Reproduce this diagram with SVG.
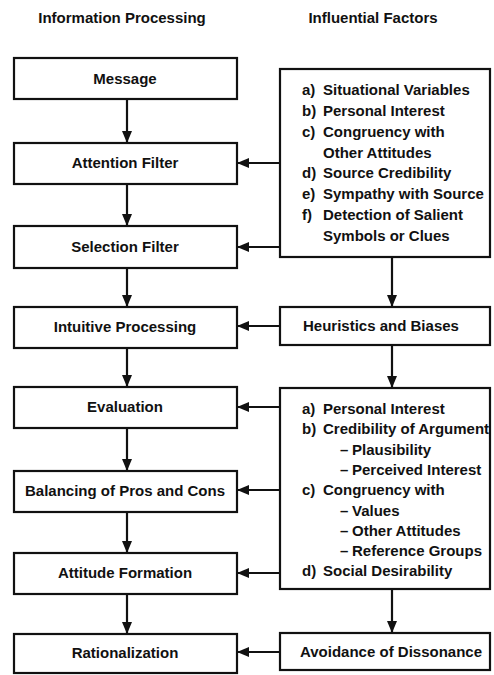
<svg xmlns="http://www.w3.org/2000/svg" width="494" height="675" viewBox="0 0 494 675">
<style>
text{font-family:"Liberation Sans",Arial,sans-serif;font-weight:bold;font-size:15px;fill:#111}
.box{fill:#fff;stroke:#111;stroke-width:2.2}
.c{text-anchor:middle}
.ln{stroke:#111;stroke-width:2.2;fill:none}
</style>
<defs>
<marker id="ah" viewBox="0 0 12 10" refX="11" refY="5" markerWidth="12" markerHeight="10" markerUnits="userSpaceOnUse" orient="auto">
<path d="M0,0 L12,5 L0,10 Z" fill="#111"/>
</marker>
</defs>
<rect width="494" height="675" fill="#fff"/>
<text class="c" x="122" y="23">Information Processing</text>
<text class="c" x="373" y="23">Influential Factors</text>

<g id="connectors">
<line class="ln" x1="127" y1="99" x2="127" y2="142" marker-end="url(#ah)"/>
<line class="ln" x1="127" y1="184" x2="127" y2="225" marker-end="url(#ah)"/>
<line class="ln" x1="127" y1="268" x2="127" y2="306" marker-end="url(#ah)"/>
<line class="ln" x1="127" y1="348" x2="127" y2="386" marker-end="url(#ah)"/>
<line class="ln" x1="127" y1="428" x2="127" y2="470" marker-end="url(#ah)"/>
<line class="ln" x1="127" y1="512" x2="127" y2="552" marker-end="url(#ah)"/>
<line class="ln" x1="127" y1="594" x2="127" y2="633" marker-end="url(#ah)"/>
<line class="ln" x1="392" y1="257" x2="392" y2="306" marker-end="url(#ah)"/>
<line class="ln" x1="392" y1="345" x2="392" y2="387" marker-end="url(#ah)"/>
<line class="ln" x1="392" y1="589" x2="392" y2="632" marker-end="url(#ah)"/>
<line class="ln" x1="280" y1="163" x2="238" y2="163" marker-end="url(#ah)"/>
<line class="ln" x1="280" y1="247" x2="238" y2="247" marker-end="url(#ah)"/>
<line class="ln" x1="280" y1="326" x2="238" y2="326" marker-end="url(#ah)"/>
<line class="ln" x1="280" y1="407" x2="238" y2="407" marker-end="url(#ah)"/>
<line class="ln" x1="280" y1="490" x2="238" y2="490" marker-end="url(#ah)"/>
<line class="ln" x1="280" y1="573" x2="238" y2="573" marker-end="url(#ah)"/>
<line class="ln" x1="280" y1="652" x2="238" y2="652" marker-end="url(#ah)"/>
</g>

<g id="message"><rect class="box" x="14" y="58" width="223" height="41"/><text class="c" x="125" y="84">Message</text></g>
<g id="attention"><rect class="box" x="14" y="143" width="223" height="41"/><text class="c" x="125" y="168">Attention Filter</text></g>
<g id="selection"><rect class="box" x="14" y="226" width="223" height="42"/><text class="c" x="125" y="252">Selection Filter</text></g>
<g id="intuitive"><rect class="box" x="14" y="307" width="223" height="41"/><text class="c" x="125" y="332">Intuitive Processing</text></g>
<g id="evaluation"><rect class="box" x="14" y="387" width="223" height="41"/><text class="c" x="125" y="412">Evaluation</text></g>
<g id="balancing"><rect class="box" x="14" y="471" width="223" height="41"/><text class="c" x="125" y="496">Balancing of Pros and Cons</text></g>
<g id="attitude"><rect class="box" x="14" y="553" width="223" height="41"/><text class="c" x="125" y="578">Attitude Formation</text></g>
<g id="rationalization"><rect class="box" x="14" y="634" width="223" height="39"/><text class="c" x="125" y="658">Rationalization</text></g>

<g id="factors1"><rect class="box" x="280" y="69" width="210" height="188"/>
<text x="302" y="95">a)</text><text x="323" y="95">Situational Variables</text>
<text x="302" y="116">b)</text><text x="323" y="116">Personal Interest</text>
<text x="302" y="137">c)</text><text x="323" y="137">Congruency with</text>
<text x="323" y="158">Other Attitudes</text>
<text x="302" y="178">d)</text><text x="323" y="178">Source Credibility</text>
<text x="302" y="199">e)</text><text x="323" y="199">Sympathy with Source</text>
<text x="302" y="220">f)</text><text x="323" y="220">Detection of Salient</text>
<text x="323" y="241">Symbols or Clues</text>
</g>
<g id="heuristics"><rect class="box" x="280" y="307" width="210" height="38"/><text x="303" y="331">Heuristics and Biases</text></g>
<g id="factors2"><rect class="box" x="280" y="388" width="210" height="201"/>
<text x="302" y="414">a)</text><text x="323" y="414">Personal Interest</text>
<text x="302" y="434">b)</text><text x="323" y="434">Credibility of Argument</text>
<text x="340" y="455">–</text><text x="352" y="455">Plausibility</text>
<text x="340" y="475">–</text><text x="352" y="475">Perceived Interest</text>
<text x="302" y="495">c)</text><text x="323" y="495">Congruency with</text>
<text x="340" y="516">–</text><text x="352" y="516">Values</text>
<text x="340" y="536">–</text><text x="352" y="536">Other Attitudes</text>
<text x="340" y="556">–</text><text x="352" y="556">Reference Groups</text>
<text x="302" y="576">d)</text><text x="323" y="576">Social Desirability</text>
</g>
<g id="dissonance"><rect class="box" x="280" y="633" width="210" height="37"/><text x="300" y="657">Avoidance of Dissonance</text></g>
</svg>
